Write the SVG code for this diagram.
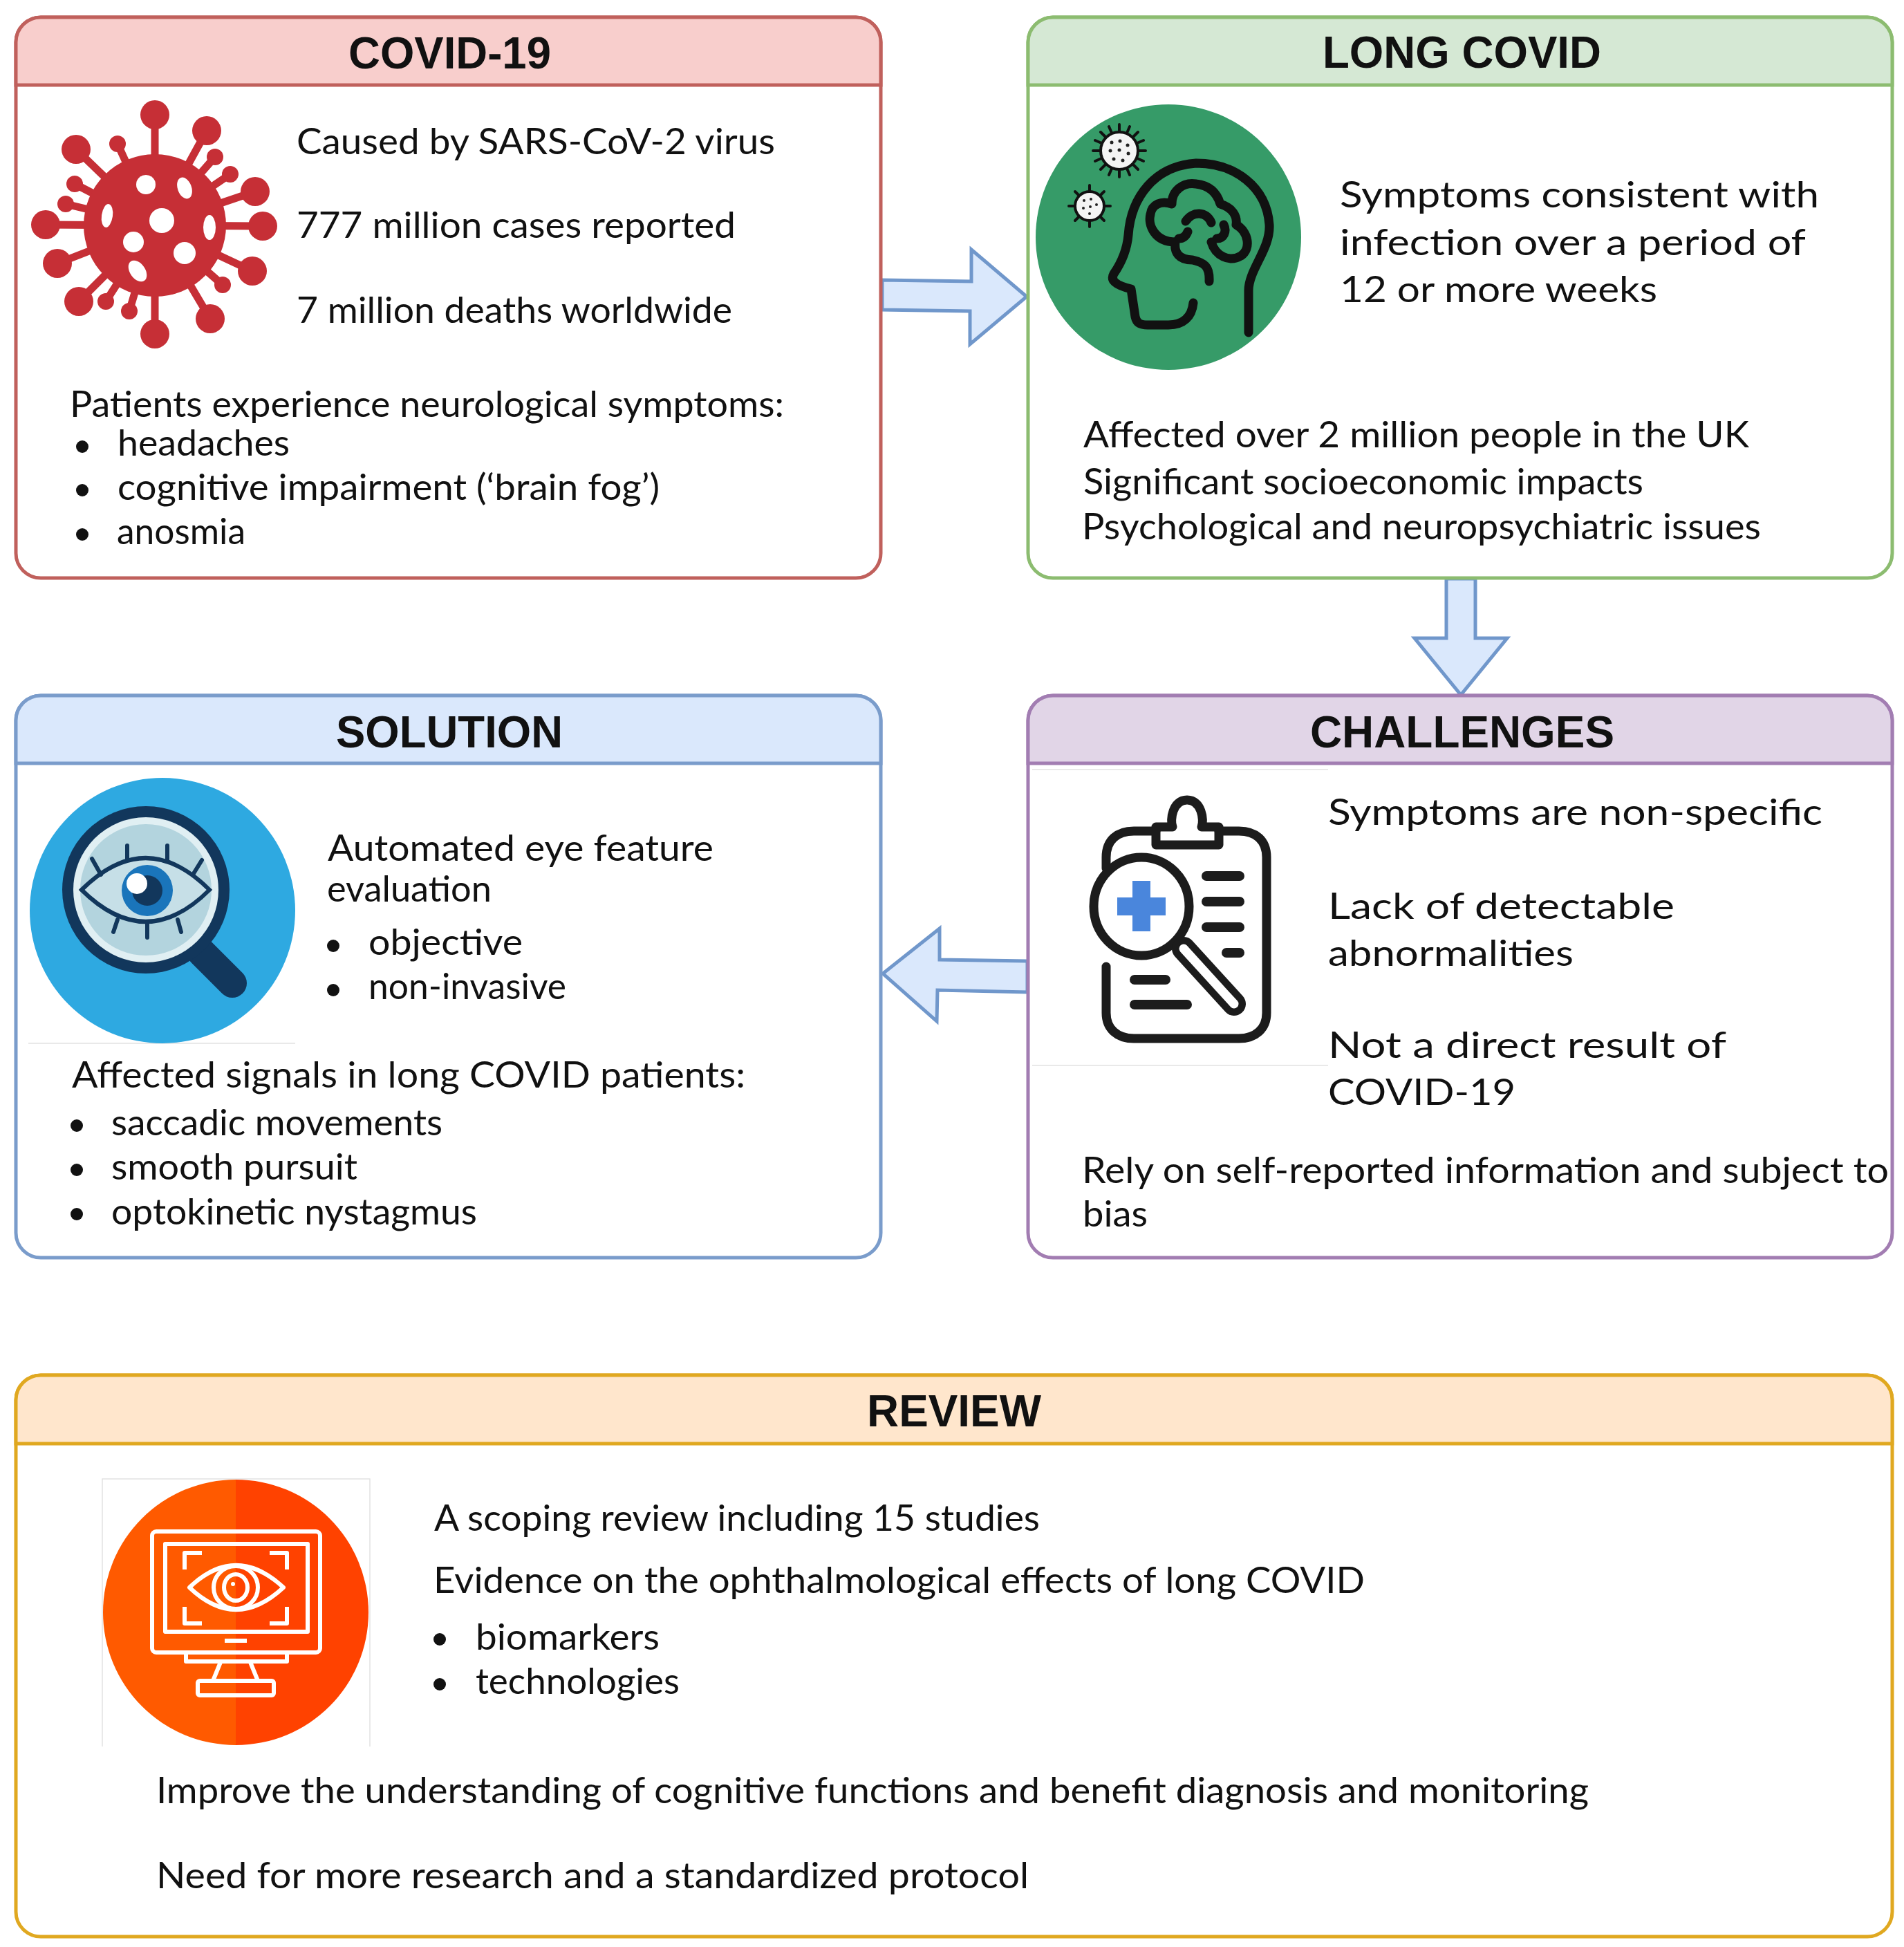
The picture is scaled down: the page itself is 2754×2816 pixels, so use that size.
<svg xmlns="http://www.w3.org/2000/svg" width="2754" height="2816" viewBox="0 0 2754 2816">
<style>
.t{font-family:"Lato","Open Sans",sans-serif;font-size:52px;fill:#111}
.h{font-family:"Liberation Sans",Arial,sans-serif;font-size:64px;font-weight:700;fill:#111}
.box{fill:#fff;stroke-width:5}
.hd{stroke-width:5}
.red{stroke:#c0605c}.redf{fill:#f8cecc}
.grn{stroke:#8cbc70}.grnf{fill:#d5e8d4}
.blu{stroke:#7a9ccb}.bluf{fill:#dae8fc}
.pur{stroke:#a27db2}.purf{fill:#e1d5e7}
.org{stroke:#e0a820}.orgf{fill:#ffe6cc}
.arrow{fill:#dae8fc;stroke:#7097cb;stroke-width:5;stroke-linejoin:miter}
.bul{fill:#111}
.hair{stroke:#e2e2e2;stroke-width:1.5;fill:none}
.bk{fill:none;stroke:#111;stroke-width:13;stroke-linecap:round;stroke-linejoin:round}
.cb{fill:none;stroke:#1c1c1c;stroke-width:13;stroke-linecap:round;stroke-linejoin:round}
.ln{fill:none;stroke:#1c1c1c;stroke-width:14;stroke-linecap:round}
.wh{fill:none;stroke:#fff;stroke-width:6;stroke-linejoin:round;stroke-linecap:butt}
.lash{fill:none;stroke:#12375c;stroke-width:6;stroke-linecap:round}
.sp{stroke:#c62f36;stroke-linecap:round}
.vs{stroke:#111;stroke-width:4;stroke-linecap:round}
</style>

<g id="connectors">
<polygon class="arrow" points="1276,405 1405,407 1405,361 1485,429 1403,498 1403,450 1276,448"/>
<polygon class="arrow" points="2092,837 2134,837 2134,923 2180,923 2113,1005 2046,923 2092,923"/>
<polygon class="arrow" points="1486,1390 1359,1388 1359,1343 1277,1408 1355,1477 1356,1432 1486,1435"/>
</g>

<g id="covid19">
<rect class="box red" x="23" y="25" width="1251" height="811" rx="36"/>
<path class="hd red redf" d="M23 123V61a36 36 0 0 1 36-36H1238a36 36 0 0 1 36 36V123Z"/>
<text class="h" x="504" y="99" textLength="293" lengthAdjust="spacingAndGlyphs">COVID-19</text>
<g id="virus-icon">
<g class="sp" stroke-width="11">
<line x1="224" y1="326" x2="224" y2="166"/><line x1="224" y1="326" x2="299" y2="189"/><line x1="224" y1="326" x2="110" y2="216"/><line x1="224" y1="326" x2="170" y2="208"/><line x1="224" y1="326" x2="311" y2="227"/><line x1="224" y1="326" x2="333" y2="252"/><line x1="224" y1="326" x2="369" y2="277"/><line x1="224" y1="326" x2="108" y2="266"/><line x1="224" y1="326" x2="95" y2="295"/><line x1="224" y1="326" x2="66" y2="325"/><line x1="224" y1="326" x2="380" y2="327"/><line x1="224" y1="326" x2="83" y2="381"/><line x1="224" y1="326" x2="365" y2="392"/><line x1="224" y1="326" x2="114" y2="436"/><line x1="224" y1="326" x2="153" y2="436"/><line x1="224" y1="326" x2="187" y2="450"/><line x1="224" y1="326" x2="224" y2="483"/><line x1="224" y1="326" x2="304" y2="461"/><line x1="224" y1="326" x2="322" y2="412"/>
</g>
<g fill="#c62f36">
<circle cx="224" cy="326" r="103"/>
<circle cx="224" cy="166" r="21"/><circle cx="299" cy="189" r="21"/><circle cx="110" cy="216" r="21"/><circle cx="369" cy="277" r="21"/><circle cx="66" cy="325" r="21"/><circle cx="380" cy="327" r="21"/><circle cx="83" cy="381" r="21"/><circle cx="365" cy="392" r="21"/><circle cx="114" cy="436" r="21"/><circle cx="224" cy="483" r="21"/><circle cx="304" cy="461" r="21"/>
<circle cx="170" cy="208" r="12"/><circle cx="311" cy="227" r="12"/><circle cx="333" cy="252" r="12"/><circle cx="108" cy="266" r="12"/><circle cx="95" cy="295" r="12"/><circle cx="153" cy="436" r="12"/><circle cx="187" cy="450" r="12"/><circle cx="322" cy="412" r="12"/>
</g>
<g fill="#fff">
<circle cx="211" cy="267" r="14"/><ellipse cx="267" cy="272" rx="10" ry="16" transform="rotate(-20 267 272)"/><ellipse cx="155" cy="312" rx="8" ry="17" transform="rotate(8 155 312)"/><circle cx="234" cy="319" r="18"/><ellipse cx="303" cy="329" rx="9" ry="18"/><circle cx="193" cy="350" r="15"/><circle cx="267" cy="366" r="16"/><ellipse cx="199" cy="392" rx="11" ry="17" transform="rotate(-35 199 392)"/>
</g>
</g>
<text class="t" x="429" y="223" textLength="692" lengthAdjust="spacingAndGlyphs">Caused by SARS-CoV-2 virus</text>
<text class="t" x="429" y="344" textLength="635" lengthAdjust="spacingAndGlyphs">777 million cases reported</text>
<text class="t" x="429" y="467" textLength="630" lengthAdjust="spacingAndGlyphs">7 million deaths worldwide</text>
<text class="t" x="101" y="603" textLength="1033" lengthAdjust="spacingAndGlyphs">Patients experience neurological symptoms:</text>
<circle class="bul" cx="119" cy="646" r="9"/><text class="t" x="170" y="659" textLength="249" lengthAdjust="spacingAndGlyphs">headaches</text>
<circle class="bul" cx="119" cy="709" r="9"/><text class="t" x="170" y="723" textLength="784" lengthAdjust="spacingAndGlyphs">cognitive impairment (‘brain fog’)</text>
<circle class="bul" cx="119" cy="773" r="9"/><text class="t" x="169" y="787" textLength="186" lengthAdjust="spacingAndGlyphs">anosmia</text>
</g>

<g id="long-covid">
<rect class="box grn" x="1487" y="25" width="1250" height="811" rx="36"/>
<path class="hd grn grnf" d="M1487 123V61a36 36 0 0 1 36-36H2701a36 36 0 0 1 36 36V123Z"/>
<text class="h" x="1913" y="98" textLength="403" lengthAdjust="spacingAndGlyphs">LONG COVID</text>
<g id="head-icon">
<circle cx="1690" cy="343" r="192" fill="#369b68"/>
<g class="vs">
<path d="M1619 180V256M1581 218H1657M1592 191L1646 245M1646 191L1592 245M1604 183L1634 253M1634 183L1604 253M1584 203L1654 233M1654 203L1584 233"/>
<path d="M1576 268V328M1546 298H1606M1555 277L1597 319M1597 277L1555 319"/>
</g>
<circle cx="1619" cy="218" r="27" fill="#f4f4f4" stroke="#111" stroke-width="4"/>
<circle cx="1576" cy="298" r="21" fill="#f4f4f4" stroke="#111" stroke-width="4"/>
<g fill="#222"><circle cx="1608" cy="206" r="2.5"/><circle cx="1620" cy="204" r="2.5"/><circle cx="1631" cy="210" r="2.5"/><circle cx="1606" cy="218" r="2.5"/><circle cx="1619" cy="217" r="2.5"/><circle cx="1632" cy="222" r="2.5"/><circle cx="1611" cy="230" r="2.5"/><circle cx="1624" cy="232" r="2.5"/><circle cx="1568" cy="290" r="2"/><circle cx="1578" cy="288" r="2"/><circle cx="1586" cy="296" r="2"/><circle cx="1567" cy="301" r="2"/><circle cx="1577" cy="299" r="2"/><circle cx="1576" cy="309" r="2"/></g>
<path class="bk" d="M1806 481V420C1806 390 1838 360 1836 325C1832 270 1786 236 1730 236C1670 240 1636 285 1632 340C1630 362 1622 380 1611 396C1606 405 1612 412 1636 418L1642 458C1644 468 1650 470 1660 470H1690C1712 470 1724 458 1726 438"/>
<path class="bk" d="M1749 407C1750 385 1742 380 1725 376C1705 376 1698 365 1700 350C1670 350 1660 325 1664 310C1666 295 1680 290 1695 295C1695 275 1712 263 1730 266C1748 268 1760 278 1765 295C1782 300 1790 312 1788 325C1806 335 1810 360 1795 370C1778 380 1758 370 1752 350M1715 320C1725 305 1745 305 1752 322M1705 345C1712 345 1716 340 1718 335M1770 325C1775 335 1770 345 1760 345"/>
</g>
<text class="t" x="1938" y="300" textLength="693" lengthAdjust="spacingAndGlyphs">Symptoms consistent with</text>
<text class="t" x="1938" y="369" textLength="674" lengthAdjust="spacingAndGlyphs">infection over a period of</text>
<text class="t" x="1938" y="437" textLength="459" lengthAdjust="spacingAndGlyphs">12 or more weeks</text>
<text class="t" x="1567" y="647" textLength="963" lengthAdjust="spacingAndGlyphs">Affected over 2 million people in the UK</text>
<text class="t" x="1567" y="715" textLength="810" lengthAdjust="spacingAndGlyphs">Significant socioeconomic impacts</text>
<text class="t" x="1565" y="780" textLength="982" lengthAdjust="spacingAndGlyphs">Psychological and neuropsychiatric issues</text>
</g>

<g id="solution">
<rect class="box blu" x="23" y="1006" width="1251" height="813" rx="36"/>
<path class="hd blu bluf" d="M23 1104V1042a36 36 0 0 1 36-36H1238a36 36 0 0 1 36 36V1104Z"/>
<text class="h" x="486" y="1081" textLength="328" lengthAdjust="spacingAndGlyphs">SOLUTION</text>
<g id="eye-lens-icon">
<line class="hair" x1="41" y1="1509" x2="427" y2="1509"/>
<circle cx="235" cy="1317" r="192" fill="#2ea9e1"/>
<line x1="292" y1="1378" x2="336" y2="1422" stroke="#12375c" stroke-width="42" stroke-linecap="round"/>
<circle cx="211" cy="1287" r="121" fill="#12375c"/>
<circle cx="211" cy="1287" r="105" fill="#e0eff3"/>
<circle cx="211" cy="1287" r="95" fill="#b3d4de"/>
<path d="M118 1287Q211 1195 303 1287Q211 1379 118 1287Z" fill="#c6dfe7" stroke="#12375c" stroke-width="6"/>
<path class="lash" d="M184 1223V1244M242 1223V1244M133 1242L146 1265M292 1244L279 1265M170 1330L164 1348M213 1334V1356M257 1330L262 1348"/>
<circle cx="213" cy="1288" r="37" fill="#1a75bb"/>
<circle cx="213" cy="1288" r="22" fill="#12375c"/>
<circle cx="198" cy="1278" r="15" fill="#fff"/>
</g>
<text class="t" x="474" y="1245" textLength="558" lengthAdjust="spacingAndGlyphs">Automated eye feature</text>
<text class="t" x="473" y="1304" textLength="238" lengthAdjust="spacingAndGlyphs">evaluation</text>
<circle class="bul" cx="482" cy="1368" r="9"/><text class="t" x="533" y="1381" textLength="223" lengthAdjust="spacingAndGlyphs">objective</text>
<circle class="bul" cx="482" cy="1432" r="9"/><text class="t" x="533" y="1445" textLength="286" lengthAdjust="spacingAndGlyphs">non-invasive</text>
<text class="t" x="104" y="1573" textLength="974" lengthAdjust="spacingAndGlyphs">Affected signals in long COVID patients:</text>
<circle class="bul" cx="111" cy="1628" r="9"/><text class="t" x="161" y="1642" textLength="479" lengthAdjust="spacingAndGlyphs">saccadic movements</text>
<circle class="bul" cx="111" cy="1692" r="9"/><text class="t" x="161" y="1706" textLength="356" lengthAdjust="spacingAndGlyphs">smooth pursuit</text>
<circle class="bul" cx="111" cy="1756" r="9"/><text class="t" x="161" y="1771" textLength="529" lengthAdjust="spacingAndGlyphs">optokinetic nystagmus</text>
</g>

<g id="challenges">
<rect class="box pur" x="1487" y="1006" width="1250" height="813" rx="36"/>
<path class="hd pur purf" d="M1487 1104V1042a36 36 0 0 1 36-36H2701a36 36 0 0 1 36 36V1104Z"/>
<text class="h" x="1895" y="1081" textLength="440" lengthAdjust="spacingAndGlyphs">CHALLENGES</text>
<g id="clipboard-icon">
<path class="hair" d="M1493 1113H1921M1493 1541H1921"/>
<path class="cb" d="M1600 1398V1465C1600 1488 1616 1502 1640 1502H1792C1816 1502 1832 1488 1832 1465V1240C1832 1215 1816 1202 1792 1202H1763M1672 1202H1640C1616 1202 1600 1215 1600 1240V1256"/>
<path class="cb" d="M1672 1222V1196H1696C1692 1186 1696 1157 1717 1157C1738 1157 1742 1186 1738 1196H1763V1222Z"/>
<ellipse cx="1651" cy="1311" rx="69" ry="71" fill="#fff" stroke="#1c1c1c" stroke-width="13"/>
<path d="M1638 1274H1664V1298H1686V1324H1664V1347H1638V1324H1616V1298H1638Z" fill="#4a86dc"/>
<path class="ln" d="M1745 1267H1793M1745 1304H1793M1745 1341H1793M1774 1378H1793M1641 1417H1686M1641 1453H1717"/>
<line x1="1712" y1="1372" x2="1785" y2="1452" stroke="#1c1c1c" stroke-width="34" stroke-linecap="round"/>
<line x1="1712" y1="1372" x2="1785" y2="1452" stroke="#fff" stroke-width="13" stroke-linecap="round"/>
</g>
<text class="t" x="1921" y="1193" textLength="715" lengthAdjust="spacingAndGlyphs">Symptoms are non-specific</text>
<text class="t" x="1921" y="1329" textLength="501" lengthAdjust="spacingAndGlyphs">Lack of detectable</text>
<text class="t" x="1921" y="1397" textLength="355" lengthAdjust="spacingAndGlyphs">abnormalities</text>
<text class="t" x="1921" y="1530" textLength="576" lengthAdjust="spacingAndGlyphs">Not a direct result of</text>
<text class="t" x="1921" y="1598" textLength="271" lengthAdjust="spacingAndGlyphs">COVID-19</text>
<text class="t" x="1565" y="1711" textLength="1167" lengthAdjust="spacingAndGlyphs">Rely on self-reported information and subject to</text>
<text class="t" x="1566" y="1774" textLength="94" lengthAdjust="spacingAndGlyphs">bias</text>
</g>

<g id="review">
<rect class="box org" x="23" y="1989" width="2714" height="812" rx="36"/>
<path class="hd org orgf" d="M23 2088V2025a36 36 0 0 1 36-36H2701a36 36 0 0 1 36 36V2088Z"/>
<text class="h" x="1254" y="2063" textLength="252" lengthAdjust="spacingAndGlyphs">REVIEW</text>
<g id="monitor-icon">
<path class="hair" d="M148 2526V2139H535V2526"/>
<path d="M341 2140A192 192 0 0 0 341 2524Z" fill="#ff5a00"/>
<path d="M341 2140A192 192 0 0 1 341 2524Z" fill="#ff4200"/>
<rect class="wh" x="220" y="2215" width="243" height="175" rx="6"/>
<rect class="wh" x="239" y="2233" width="206" height="127"/>
<path class="wh" d="M267 2270V2246H292M390 2246H415V2270M267 2324V2348H292M390 2348H415V2324"/>
<path class="wh" d="M274 2296Q341 2232 410 2296Q341 2360 274 2296Z"/>
<ellipse class="wh" cx="341" cy="2296" rx="32" ry="31"/>
<ellipse class="wh" cx="341" cy="2296" rx="17" ry="19"/>
<circle cx="337" cy="2291" r="3" fill="#fff"/>
<path class="wh" d="M325 2373H357"/>
<path class="wh" d="M269 2390V2403H415V2390M319 2404L308 2431M362 2404L373 2431"/>
<rect class="wh" x="286" y="2431" width="110" height="21" rx="3"/>
</g>
<text class="t" x="628" y="2214" textLength="876" lengthAdjust="spacingAndGlyphs">A scoping review including 15 studies</text>
<text class="t" x="627" y="2304" textLength="1347" lengthAdjust="spacingAndGlyphs">Evidence on the ophthalmological effects of long COVID</text>
<circle class="bul" cx="636" cy="2371" r="9"/><text class="t" x="688" y="2386" textLength="266" lengthAdjust="spacingAndGlyphs">biomarkers</text>
<circle class="bul" cx="636" cy="2436" r="9"/><text class="t" x="688" y="2450" textLength="295" lengthAdjust="spacingAndGlyphs">technologies</text>
<text class="t" x="226" y="2608" textLength="2072" lengthAdjust="spacingAndGlyphs">Improve the understanding of cognitive functions and benefit diagnosis and monitoring</text>
<text class="t" x="226" y="2731" textLength="1262" lengthAdjust="spacingAndGlyphs">Need for more research and a standardized protocol</text>
</g>
</svg>
